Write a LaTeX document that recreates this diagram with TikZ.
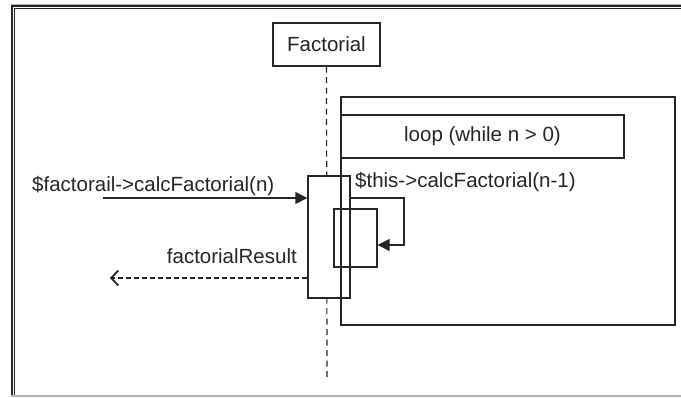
\documentclass[tikz,border=0pt]{standalone}
\usepackage{fontspec}
\setmainfont{Liberation Sans}
\usetikzlibrary{arrows.meta,calc}
\begin{document}
\begin{tikzpicture}[x=1pt,y=-1pt,
  box/.style={draw=black!85,line width=1.3pt,inner sep=0pt,rectangle},
  lbl/.style={inner sep=0pt,font=\fontsize{20.5}{24}\selectfont,text=black!85},
  msg/.style={line width=1.3pt,draw=black!85,-{Triangle[length=12pt,width=12pt]}},
  ret/.style={line width=1.3pt,draw=black!85,dash pattern=on 5pt off 3pt,-{Straight Barb[length=7pt,width=15pt,line width=1.8pt]}},
  life/.style={line width=1.2pt,draw=black!85,dash pattern=on 6pt off 4.5pt}]
\useasboundingbox (0,0) rectangle (681,397);
\fill[white] (0,0) rectangle (681,397);
% outer frame
\draw[gray!60,line width=1pt] (11,4) -- (681,4);
\draw[black!85,line width=1.4pt] (681,5.8) -- (12,5.8) -- (12,397);
\draw[black!85,line width=1.2pt] (681,8.7) -- (14.8,8.7) -- (14.8,397);
\draw[gray!60,line width=1.2pt] (11,396) -- (681,396);
% lifeline head
\node[box,minimum width=107pt,minimum height=43pt,fill=white] (fact) at (326.5,44.5) {};
\node[lbl] (factt) at (fact.center) {Factorial};
\coordinate (lifeend) at (327,380);
\draw[life] (fact.south) -- (lifeend);
% activation
\node[box,minimum width=42pt,minimum height=122pt,fill=white] (act) at (329,237) {};
\node[box,minimum width=43pt,minimum height=58pt] (inner) at (355.5,238) {};
% loop frame
\node[box,minimum width=334pt,minimum height=228pt] (frame) at (508,211) {};
\node[box,minimum width=283pt,minimum height=43pt] (looplbl) at (482.5,136.5) {};
\node[lbl] (loopt) at (looplbl.center) {loop (while n > 0)};
% incoming message
\coordinate (in1) at (103,198);
\draw[msg] (in1) -- (in1 -| act.west);
\node[lbl,anchor=base west] (m1) at (32,191) {\$factorail->calcFactorial(n)};
% self call
\coordinate (sc1) at (404,198);
\coordinate (sc2) at (404,245);
\draw[msg] (act.east |- sc1) -- (sc1) -- (sc2) -- (sc2 -| inner.east);
\node[lbl,anchor=base west] (m2) at (355,187) {\$this->calcFactorial(n-1)};
% return
\coordinate (r1) at (110,278);
\draw[ret] (r1 -| act.west) -- (r1);
\node[lbl,anchor=base east] (m3) at (297,263) {factorialResult};
\end{tikzpicture}
\end{document}
